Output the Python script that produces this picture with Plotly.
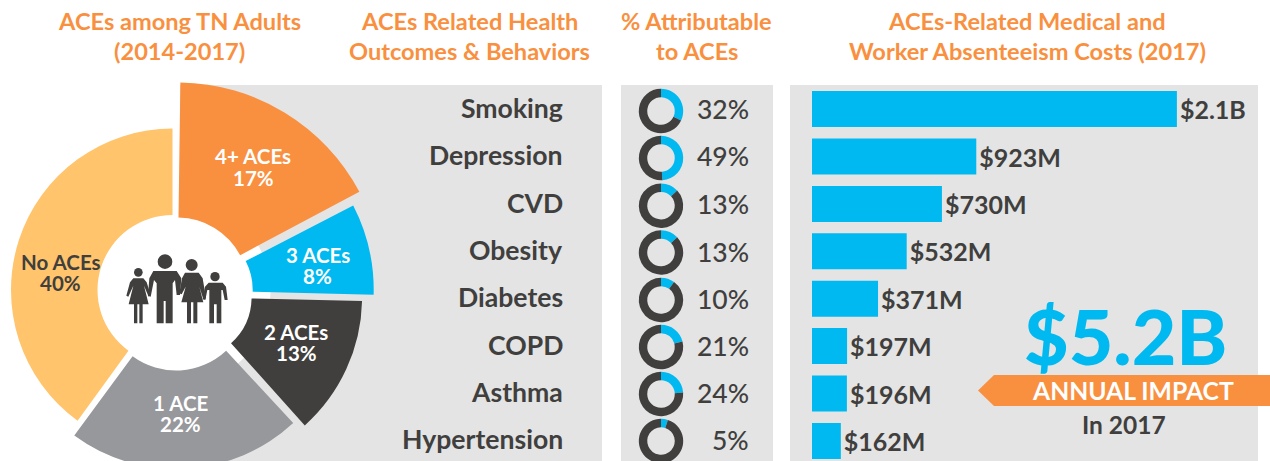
import plotly.graph_objects as go

# ---- data
ace_categories = ["4+ ACEs", "3 ACEs", "2 ACEs", "1 ACE", "No ACEs"]
ace_shares = [17, 8, 13, 22, 40]
outcomes = ["Smoking", "Depression", "CVD", "Obesity", "Diabetes", "COPD", "Asthma", "Hypertension"]
attributable_pct = [32, 49, 13, 13, 10, 21, 24, 5]
cost_millions = [2050, 923, 730, 532, 371, 197, 196, 162]
cost_labels = ["$2.1B", "$923M", "$730M", "$532M", "$371M", "$197M", "$196M", "$162M"]

# ---- style / layout constants (pixels in the 1270x461 window)
OFF = 40
W, H = 1270 + OFF, 500
FONT = "Lato"
ORANGE, BLUE, DARK, GREY, YELLOW, PANEL = "#F99040", "#00B9F0", "#403F3E", "#97989C", "#FFC46C", "#E4E4E4"
ace_colors = [ORANGE, BLUE, DARK, GREY, YELLOW]
ace_text = ["white", "white", "white", "white", DARK]
# slice centre x, centre y, outer radius, inner radius, rotation nudge in degrees
ace_geom = [(177.5, 288.5, 206, 71, 0.8), (189.7, 290, 184, 63, 1.5), (189.6, 297, 172.5, 62, 1.3),
            (176.1, 297, 172, 73.5, 0.3), (172.5, 290, 161.5, 75, 0)]
ace_label_xy = [(253, 167), (317.5, 265), (296, 342), (180, 413), (60.5, 272)]
row_y_label = [108, 155, 203, 250, 297, 345, 392, 439]
row_y_donut = [111, 158, 205.7, 252.5, 300, 347, 394, 441]
row_y_pct = [109, 156, 204, 252, 299, 346, 393, 440]


def fx(px):
    return (px + OFF) / W


def fy(py):
    return 1 - py / H


def note(text, x, y, size, color=DARK, weight=700, anchor="center"):
    return dict(text=text, x=fx(x), y=fy(y), xref="paper", yref="paper", xanchor=anchor, yanchor="middle",
                showarrow=False, font=dict(family=FONT, size=size, color=color, weight=weight))


fig = go.Figure()

# proportional slices, each with its own radius
start = 0
for cat, share, col, (cx, cy, r, inner, nudge) in zip(ace_categories, ace_shares, ace_colors, ace_geom):
    fig.add_trace(go.Pie(values=[share, 100 - share], sort=False, direction="clockwise", rotation=start * 3.6 + nudge,
                         hole=inner / r, textinfo="none", hoverinfo="skip", showlegend=False,
                         marker=dict(colors=[col, "rgba(0,0,0,0)"], line=dict(width=0)),
                         domain=dict(x=[fx(cx - r), fx(cx + r)], y=[fy(cy + r), fy(cy - r)])))
    start += share

# small donuts
DX, DR = 661, 22.2
for pct, cy in zip(attributable_pct, row_y_donut):
    fig.add_trace(go.Pie(values=[pct, 100 - pct], sort=False, direction="clockwise", rotation=0, hole=0.62,
                         textinfo="none", hoverinfo="skip", showlegend=False,
                         marker=dict(colors=[BLUE, DARK], line=dict(width=0)),
                         domain=dict(x=[fx(DX - DR), fx(DX + DR)], y=[fy(cy + DR), fy(cy - DR)])))

# cost bars
fig.add_trace(go.Bar(y=outcomes, x=cost_millions, orientation="h", width=36 / 47.4, marker=dict(color=BLUE, line=dict(width=0)),
                     text=cost_labels, textposition="outside", cliponaxis=False, textangle=0, constraintext="none",
                     textfont=dict(family=FONT, size=25, color=DARK, weight=700), hoverinfo="skip", showlegend=False))

fig.update_xaxes(visible=False, domain=[fx(812), 1], range=[0, 458 / 0.178])
fig.update_yaxes(visible=False, domain=[fy(464.6), fy(85.4)], type="category", categoryorder="array",
                 categoryarray=outcomes, range=[7.5, -0.5])

# panels, centre disc, banner
shapes = []
for x0, x1 in [(180, 602), (621, 773), (790, 1258)]:
    shapes.append(dict(type="rect", xref="paper", yref="paper", x0=fx(x0), x1=fx(x1), y0=0, y1=fy(85),
                       fillcolor=PANEL, line_width=0, layer="below"))
shapes.append(dict(type="circle", xref="paper", yref="paper", x0=fx(175.5 - 95), x1=fx(175.5 + 95),
                   y0=fy(292 + 95), y1=fy(292 - 95), fillcolor="white", line_width=0, layer="below"))


def path(points):
    return "M " + " L ".join(f"{fx(x):.5f},{fy(y):.5f}" for x, y in points) + " Z"


shapes.append(dict(type="path", xref="paper", yref="paper", layer="below", fillcolor=ORANGE, line_width=0,
                   path=path([(978, 390.5), (994, 375), (1270, 375), (1270, 406), (994, 406)])))


# family pictogram, drawn in the 3x zoom coordinates of the centre of the ring
def z(pts):
    return path([(120 + x / 3, 245 + y / 3) for x, y in pts])


def head(x, y, r):
    return dict(type="circle", xref="paper", yref="paper", fillcolor=DARK, line_width=0,
                x0=fx(120 + (x - r) / 3), x1=fx(120 + (x + r) / 3), y0=fy(245 + (y + r) / 3), y1=fy(245 + (y - r) / 3))


bodies = [
    # father
    [(100, 78), (170, 78), (184, 100), (180, 150), (170, 150), (165, 105), (158, 115), (158, 235), (137, 235), (137, 168),
     (131, 168), (131, 235), (110, 235), (110, 115), (102, 105), (92, 155), (84, 152), (88, 100)],
    # mother
    [(195, 83), (236, 83), (248, 100), (258, 160), (250, 163), (238, 125), (250, 172), (232, 172), (232, 235), (220, 235),
     (220, 172), (213, 172), (213, 235), (201, 235), (201, 172), (184, 172), (197, 125), (185, 148), (178, 145), (186, 100)],
    # girl
    [(40, 100), (70, 100), (80, 112), (92, 150), (86, 155), (72, 122), (86, 178), (68, 178), (68, 235), (58, 235), (58, 178),
     (52, 178), (52, 235), (42, 235), (42, 178), (26, 178), (40, 122), (25, 155), (19, 152), (30, 112)],
    # boy
    [(266, 113), (308, 113), (318, 125), (323, 165), (314, 165), (308, 135), (304, 135), (304, 235), (290, 235), (290, 178),
     (282, 178), (282, 235), (268, 235), (268, 135), (262, 135), (256, 165), (248, 163), (255, 125)],
]
for b in bodies:
    shapes.append(dict(type="path", xref="paper", yref="paper", fillcolor=DARK, line_width=0, path=z(b)))
for h in [(135, 50, 22), (215, 60, 18), (55, 82, 13), (285, 95, 14)]:
    shapes.append(head(*h))

# text
ann = []
for lines, x in [(["ACEs among TN Adults", "(2014-2017)"], 179), (["ACEs Related Health", "Outcomes & Behaviors"], 469),
                 (["% Attributable", "to ACEs"], 696.5), (["ACEs-Related Medical and", "Worker Absenteeism Costs (2017)"], 1027)]:
    for line, y in zip(lines, [21, 51]):
        ann.append(note(line.replace("&", "&amp;"), x, y, 23.6, ORANGE))

for cat, share, col, (x, y) in zip(ace_categories, ace_shares, ace_text, ace_label_xy):
    ann.append(note(cat, x, y - 10.5, 20.5, col))
    ann.append(note(f"{share}%", x, y + 11, 20.5, col))

for name, y in zip(outcomes, row_y_label):
    ann.append(note(name, 565, y, 26.6, anchor="right"))
for pct, y in zip(attributable_pct, row_y_pct):
    ann.append(note(f"{pct}%", 751, y, 26.5, weight=500, anchor="right"))

ann.append(note("$5.2B", 1125.5, 335, 77, BLUE, weight=900))
ann.append(note("ANNUAL IMPACT", 1133, 390.5, 24.7, "white", weight=700))
ann.append(note("In 2017", 1124, 424, 24.5, DARK, weight=700))

fig.update_layout(width=W, height=H, margin=dict(l=0, r=0, t=0, b=0, pad=0), paper_bgcolor="white", plot_bgcolor="rgba(0,0,0,0)",
                  shapes=shapes, annotations=ann, font=dict(family=FONT), showlegend=False)

post = ("document.documentElement.style.overflow='hidden';document.body.style.overflow='hidden';"
        "document.body.style.margin='0';"
        f"document.getElementById('{{plot_id}}').style.marginLeft='-{OFF}px';")
fig.write_html("out.html", post_script=post, config=dict(displayModeBar=False))
